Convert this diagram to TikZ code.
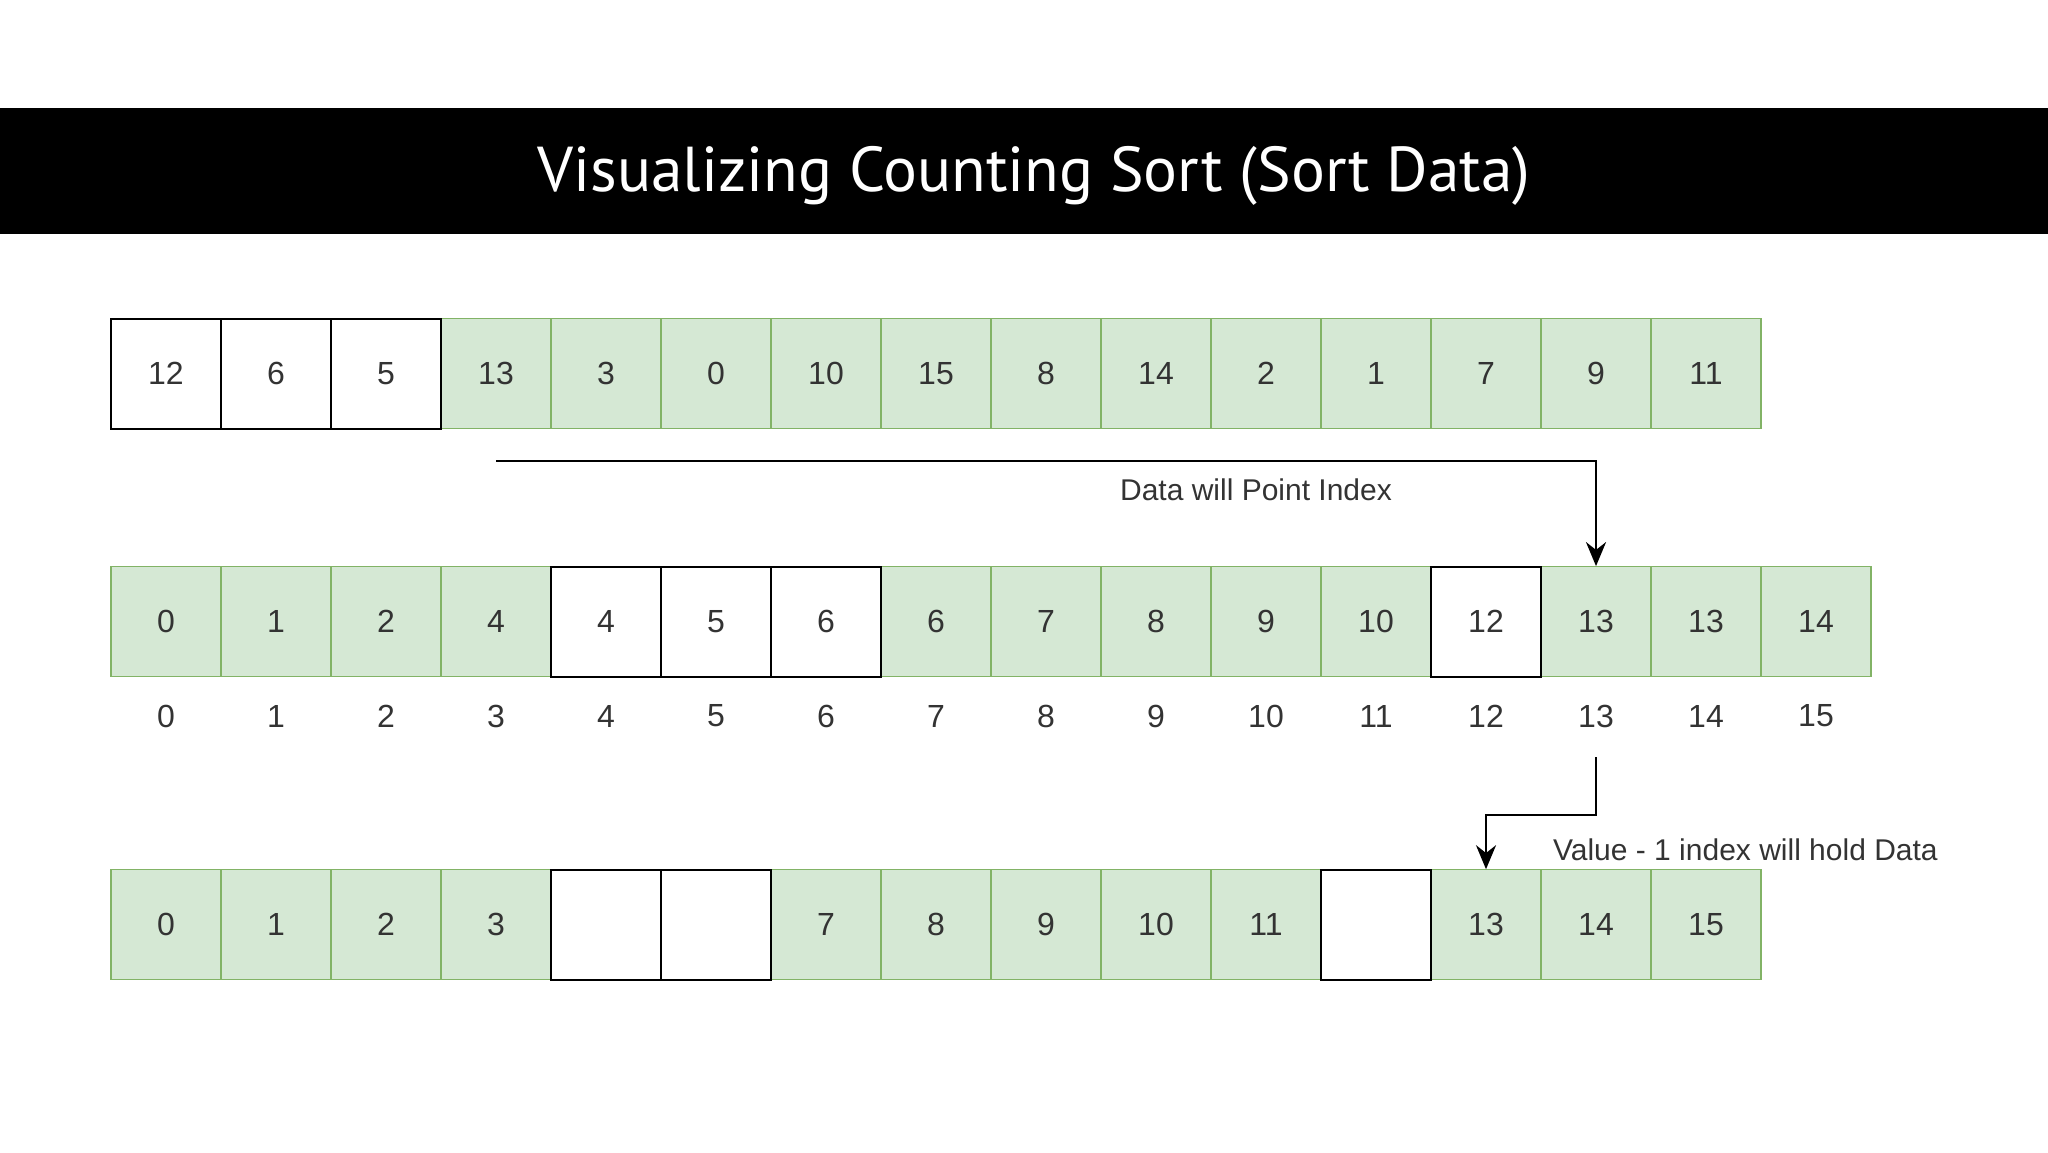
\documentclass[tikz,border=0pt]{standalone}
\usepackage{fontspec}
\setmainfont{Liberation Sans}
\newfontfamily\titlefont{PT Sans}
\usetikzlibrary{arrows.meta, positioning}
\definecolor{cellgreen}{HTML}{D5E8D4}
\definecolor{cellline}{HTML}{82B366}
\tikzset{
  cell/.style = {minimum size=55pt, inner sep=0pt, font=\fontsize{16}{18}\selectfont, text=black!80},
  gcell/.style = {cell, fill=cellgreen, draw=cellline, line width=0.6pt},
  wcell/.style = {cell, fill=white, draw=black, line width=1pt},
  idxlabel/.style = {font=\fontsize{16}{18}\selectfont, text=black!80},
  note/.style = {font=\fontsize{15}{17}\selectfont, text=black!80},
  link/.style = {-{Stealth[length=12pt, width=10pt]}, line width=1.3pt, draw=black}
}

\begin{document}
\begin{tikzpicture}[x=0.5pt, y=-0.5pt]

  \useasboundingbox (0,0) rectangle (2048,1152);

  % Title band
  \fill[black] (0,108) rectangle (2048,234);
  \node[anchor=base, text=white, font=\titlefont\fontsize{31.7}{38}\selectfont] (title) at (1034,191) {Visualizing Counting Sort (Sort Data)};

  % Input data
  \foreach \i/\v in {3/13, 4/3, 5/0, 6/10, 7/15, 8/8, 9/14, 10/2, 11/1, 12/7, 13/9, 14/11}
    \node[gcell] (a\i) at ({166+110*\i},373.5) {\v};
  \foreach \i/\v in {0/12, 1/6, 2/5}
    \node[wcell] (a\i) at ({166+110*\i},373.5) {\v};

  % Count array
  \foreach \i/\v in {0/0, 1/1, 2/2, 3/4, 7/6, 8/7, 9/8, 10/9, 11/10, 13/13, 14/13, 15/14}
    \node[gcell] (c\i) at ({166+110*\i},621.7) {\v};
  \foreach \i/\v in {4/4, 5/5, 6/6, 12/12}
    \node[wcell] (c\i) at ({166+110*\i},621.7) {\v};

  % Indices
  \foreach \i in {0,...,15}
    \node[idxlabel] (idx\i) at ({166+110*\i},716) {\i};

  % Output array
  \foreach \i/\v in {0/0, 1/1, 2/2, 3/3, 6/7, 7/8, 8/9, 9/10, 10/11, 12/13, 13/14, 14/15}
    \node[gcell] (r\i) at ({166+110*\i},924.8) {\v};
  \foreach \i in {4, 5, 11}
    \node[wcell] (r\i) at ({166+110*\i},924.8) {};

  % Arrows
  \draw[link] ([yshift=-16pt]a3.south) -| (c13.north);
  \node[note] (hint1) at (1256,490) {Data will Point Index};

  \coordinate (turn) at ([yshift=-20.5pt]idx13.center);
  \draw[link] (turn) -- ++(0,58) -| (r12.north);
  \node[note, anchor=west] (hint2) at (1546,850) {Value - 1 index will hold Data};

\end{tikzpicture}
\end{document}
